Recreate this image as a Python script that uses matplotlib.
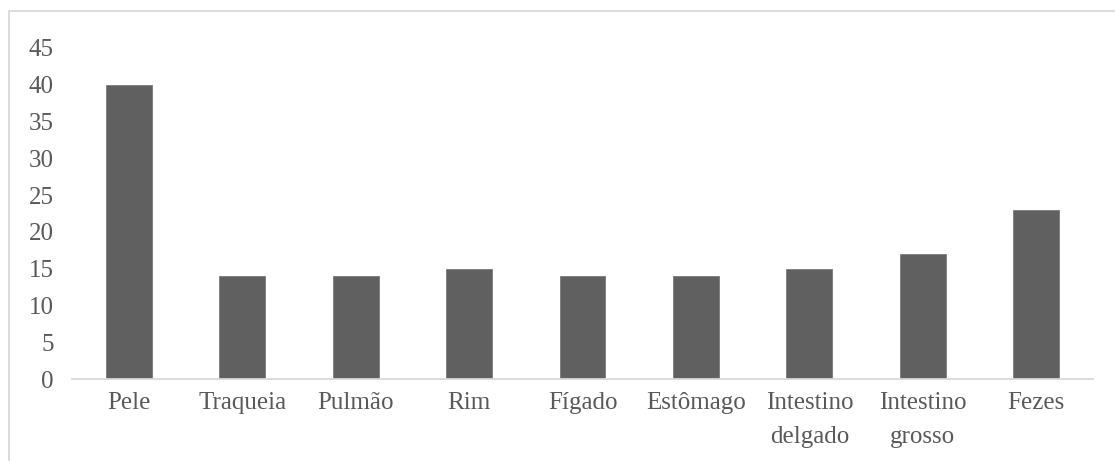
import matplotlib.pyplot as plt
from matplotlib.patches import Rectangle

plt.rcParams['font.family'] = ['Liberation Serif', 'DejaVu Serif']

# Categorias e valores
categorias = ['Pele', 'Traqueia', 'Pulmão', 'Rim', 'Fígado', 'Estômago',
              'Intestino\ndelgado', 'Intestino\ngrosso', 'Fezes']
valores = [40, 14, 14, 15, 14, 14, 15, 17, 23]
yticks = [0, 5, 10, 15, 20, 25, 30, 35, 40, 45]

W, H = 1115, 461
fig = plt.figure(figsize=(W / 100, H / 100), dpi=100)

# moldura cinza clara do gráfico
fig.patches.append(Rectangle((9 / W, -0.1), 1.2, (H - 11) / H + 0.1,
                             transform=fig.transFigure, fill=False,
                             edgecolor='#d9d9d9', linewidth=1.3))

ax = fig.add_axes([72 / W, (H - 379) / H, (1093 - 72) / W, (379 - 48) / H])
x = range(len(categorias))
ax.bar(x, valores, width=0.405, color='#606060', edgecolor='#7a7a7a',
       linewidth=0.6, zorder=2)

ax.set_xlim(-0.5, len(categorias) - 0.5)
ax.set_ylim(0, 45)
ax.set_yticks(yticks)
ax.set_xticks(list(x))
ax.set_xticklabels(categorias, linespacing=1.75, va='top')

for s in ['top', 'right', 'left']:
    ax.spines[s].set_visible(False)
ax.spines['bottom'].set_color('#d9d9d9')
ax.spines['bottom'].set_linewidth(1.3)
ax.tick_params(axis='both', length=0, labelsize=18, colors='#595959')
ax.tick_params(axis='y', pad=13)
ax.tick_params(axis='x', pad=9)

fig.savefig('out.png', dpi=100)
